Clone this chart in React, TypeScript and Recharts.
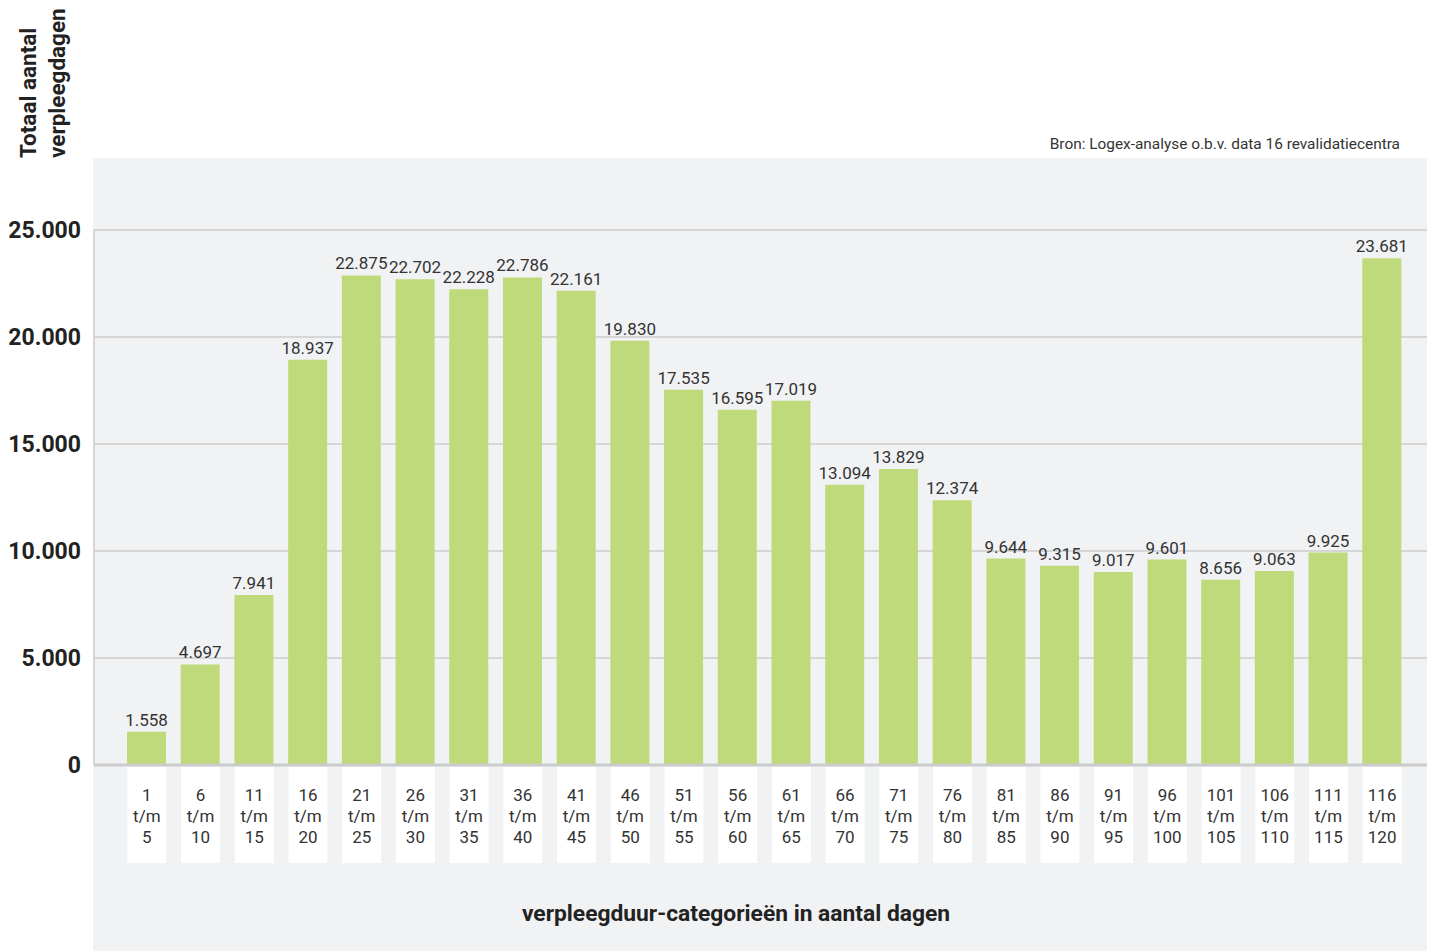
import { BarChart, Bar, XAxis, YAxis, CartesianGrid, LabelList } from 'recharts'

const categories = [
  '1 t/m 5', '6 t/m 10', '11 t/m 15', '16 t/m 20', '21 t/m 25', '26 t/m 30',
  '31 t/m 35', '36 t/m 40', '41 t/m 45', '46 t/m 50', '51 t/m 55', '56 t/m 60',
  '61 t/m 65', '66 t/m 70', '71 t/m 75', '76 t/m 80', '81 t/m 85', '86 t/m 90',
  '91 t/m 95', '96 t/m 100', '101 t/m 105', '106 t/m 110', '111 t/m 115', '116 t/m 120',
]

const verpleegdagen = [
  1558, 4697, 7941, 18937, 22875, 22702, 22228, 22786, 22161, 19830, 17535, 16595,
  17019, 13094, 13829, 12374, 9644, 9315, 9017, 9601, 8656, 9063, 9925, 23681,
]

const yTicks = [0, 5000, 10000, 15000, 20000, 25000]

const data = categories.map((name, i) => ({ name, value: verpleegdagen[i] }))

const FONT = 'Roboto, "Noto Sans", sans-serif'
const TEXT = '#333'

// dutch thousands separator
const fmt = (v: any) => String(v).replace(/\B(?=(\d{3})+(?!\d))/g, '.')

const CategoryTick = (props: any) => {
  const { x, y, payload } = props
  const parts = String(payload.value).split(' ')
  return (
    <g>
      <rect x={x - 19.5} y={y + 2} width={39} height={96} fill="#fff" />
      {parts.map((p, i) => (
        <text key={i} x={x} y={y + 36 + i * 21} textAnchor="middle" fontSize={17} fill={TEXT} fontFamily={FONT}>
          {p}
        </text>
      ))}
    </g>
  )
}

export default function App() {
  return (
    <div style={{ position: 'absolute', left: 0, top: 0, width: 1432, height: 951, background: '#fff' }}>
      <div style={{ position: 'absolute', left: 93, top: 158, width: 1334, height: 793, background: '#F1F2F4' }} />
      <div style={{ position: 'absolute', left: 0, top: 0 }}>
        <BarChart
          width={1432}
          height={951}
          data={data}
          margin={{ top: 230, right: 5, bottom: 0, left: 0 }}
        >
          <CartesianGrid vertical={false} stroke="#d6d6d6" strokeWidth={2} />
          <XAxis
            dataKey="name"
            interval={0}
            height={186}
            padding={{ left: 26, right: 18 }}
            axisLine={{ stroke: '#cbcbcb', strokeWidth: 3 }}
            tickLine={false}
            tickSize={0}
            tickMargin={0}
            tick={<CategoryTick />}
          />
          <YAxis
            width={94}
            domain={[0, 25000]}
            ticks={yTicks}
            tickFormatter={fmt}
            axisLine={{ stroke: '#d6d6d6', strokeWidth: 2 }}
            tickLine={false}
            tickSize={0}
            tickMargin={13}
            tick={{ fontSize: 23, fontWeight: 700, fill: '#222', fontFamily: FONT }}
          />
          <Bar dataKey="value" fill="#BFDA7A" barSize={39} isAnimationActive={false}>
            <LabelList
              dataKey="value"
              position="top"
              offset={6}
              formatter={fmt}
              fill={TEXT}
              fontSize={17}
              fontFamily={FONT}
            />
          </Bar>
        </BarChart>
      </div>
      <svg
        width={1432}
        height={951}
        style={{ position: 'absolute', left: 0, top: 0, pointerEvents: 'none' }}
        fontFamily={FONT}
      >
        <text transform="translate(36,158) rotate(-90)" fontSize={22.5} fontWeight={700} fill="#222">
          Totaal aantal
        </text>
        <text transform="translate(65,158) rotate(-90)" fontSize={22.5} fontWeight={700} fill="#222">
          verpleegdagen
        </text>
        <text x={1400} y={149} textAnchor="end" fontSize={15.4} fill={TEXT}>
          Bron: Logex-analyse o.b.v. data 16 revalidatiecentra
        </text>
        <text x={736} y={921} textAnchor="middle" fontSize={22.8} fontWeight={700} fill="#222">
          verpleegduur-categorieën in aantal dagen
        </text>
      </svg>
    </div>
  )
}
